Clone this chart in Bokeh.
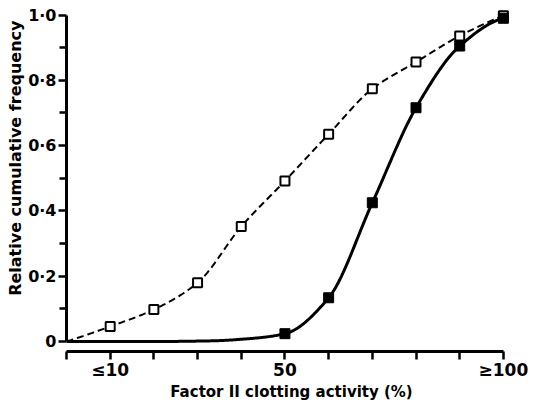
import numpy as np
from bokeh.plotting import figure
from bokeh.models import FixedTicker, Range1d, Title
from bokeh.embed import file_html
from bokeh.resources import INLINE

# ---- data ----
open_x = [10, 20, 30, 40, 50, 60, 70, 80, 90, 100]
open_y = [0.046, 0.098, 0.18, 0.352, 0.492, 0.635, 0.774, 0.856, 0.936, 0.998]
filled_x = [50, 60, 70, 80, 90, 100]
filled_y = [0.024, 0.134, 0.425, 0.716, 0.905, 0.99]
# points read along the drawn curves where no marker is shown
dashed_start_x = [0]
dashed_start_y = [0.0]
solid_lead_x = [0, 20, 33, 42]
solid_lead_y = [0.0, 0.0, 0.002, 0.009]

x_ticks = [0, 10, 20, 30, 40, 50, 60, 70, 80, 90, 100]
x_tick_labels = {10: "≤10", 50: "50", 100: "≥100"}
y_ticks = [0, 0.2, 0.4, 0.6, 0.8, 1.0]
y_minor = [0.1, 0.3, 0.5, 0.7, 0.9]
y_tick_labels = ["0", "0·2", "0·4", "0·6", "0·8", "1·0"]
x_title = "Factor II clotting activity (%)"
y_title = "Relative cumulative frequency"


def pchip(xk, yk, xs):
    xk = np.asarray(xk, float)
    yk = np.asarray(yk, float)
    h = np.diff(xk)
    d = np.diff(yk) / h
    n = len(xk)
    m = np.zeros(n)
    for k in range(1, n - 1):
        if d[k - 1] * d[k] > 0:
            w1 = 2 * h[k] + h[k - 1]
            w2 = h[k] + 2 * h[k - 1]
            m[k] = (w1 + w2) / (w1 / d[k - 1] + w2 / d[k])
    def end(h0, h1, d0, d1):
        v = ((2 * h0 + h1) * d0 - h0 * d1) / (h0 + h1)
        if np.sign(v) != np.sign(d0):
            v = 0.0
        elif np.sign(d0) != np.sign(d1) and abs(v) > abs(3 * d0):
            v = 3 * d0
        return v
    m[0] = end(h[0], h[1], d[0], d[1])
    m[-1] = end(h[-1], h[-2], d[-1], d[-2])
    out = np.empty_like(xs)
    for i, x in enumerate(xs):
        k = min(max(np.searchsorted(xk, x) - 1, 0), n - 2)
        t = (x - xk[k]) / h[k]
        h00 = 2 * t**3 - 3 * t**2 + 1
        h10 = t**3 - 2 * t**2 + t
        h01 = -2 * t**3 + 3 * t**2
        h11 = t**3 - t**2
        out[i] = h00 * yk[k] + h10 * h[k] * m[k] + h01 * yk[k + 1] + h11 * h[k] * m[k + 1]
    return out


xs = np.linspace(0, 100, 401)
dashed_y = pchip(dashed_start_x + open_x, dashed_start_y + open_y, xs)
solid_y = pchip(solid_lead_x + filled_x, solid_lead_y + filled_y, xs)

p = figure(width=543, height=403, output_backend="svg", toolbar_location=None,
           x_range=Range1d(0, 103), y_range=Range1d(-0.0306, 1.02),
           min_border_left=66, min_border_right=27, min_border_top=8,
           min_border_bottom=51)
p.outline_line_color = None
p.grid.visible = False
p.background_fill_color = "white"
p.border_fill_color = "white"

p.line(xs, dashed_y, line_color="black", line_width=2, line_dash="7 4")
p.line(xs, solid_y, line_color="black", line_width=3)
p.scatter(open_x, open_y, marker="square", size=9, fill_color="white",
          line_color="black", line_width=2)
p.scatter(filled_x, filled_y, marker="square", size=10, fill_color="black",
          line_color="black", line_width=1)

font = "DejaVu Sans"
xa = p.xaxis[0]
xa.bounds = (0, 100)
xa.ticker = FixedTicker(ticks=x_ticks, minor_ticks=[])
xa.major_label_overrides = {t: x_tick_labels.get(t, "") for t in x_ticks}
xa.axis_line_width = 3
xa.major_tick_line_width = 2.5
xa.major_tick_out = 8
xa.major_tick_in = 0
xa.minor_tick_out = 0
xa.major_label_standoff = 0
xa.major_label_text_font = font
xa.major_label_text_font_style = "bold"
xa.major_label_text_font_size = "17px"
xa.major_label_text_color = "black"
xa.axis_label = x_title
xa.axis_label_text_font = font
xa.axis_label_text_font_style = "bold"
xa.axis_label_text_font_size = "15px"
xa.axis_label_text_color = "black"
xa.axis_label_standoff = 0

ya = p.yaxis[0]
ya.bounds = (0, 1)
ya.ticker = FixedTicker(ticks=y_ticks, minor_ticks=y_minor)
ya.major_label_overrides = dict(zip(y_ticks, y_tick_labels))
ya.axis_line_width = 3
ya.major_tick_line_width = 2.5
ya.minor_tick_line_width = 2.5
ya.major_tick_out = 8
ya.major_tick_in = 0
ya.minor_tick_out = 7
ya.minor_tick_in = 0
ya.major_label_standoff = 2
ya.major_label_text_font = font
ya.major_label_text_font_style = "bold"
ya.major_label_text_font_size = "16px"
ya.major_label_text_color = "black"

p.add_layout(Title(text=y_title, align="right", offset=12, standoff=2,
                   text_font=font, text_font_style="bold", text_font_size="16px",
                   text_color="black"), "left")

open("out.html", "w").write(file_html(p, INLINE))
